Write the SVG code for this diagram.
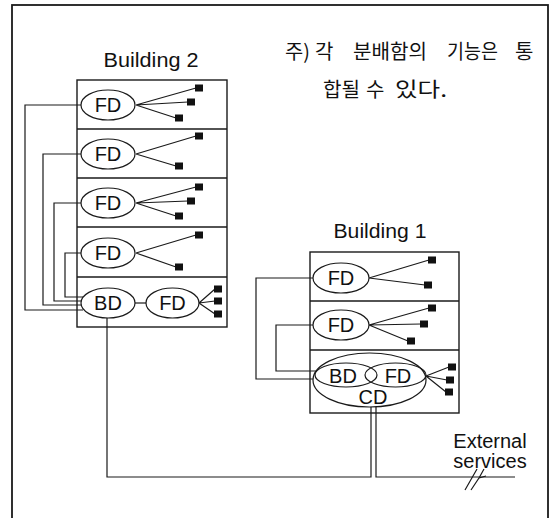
<svg xmlns="http://www.w3.org/2000/svg" width="554" height="518" viewBox="0 0 554 518">
<defs>
<style>
.ln{fill:none;stroke:#1a1a1a;stroke-width:1.2}
.box{fill:none;stroke:#1a1a1a;stroke-width:1.4}
.ell{fill:#fff;stroke:#1a1a1a;stroke-width:1.2}
.ello{fill:none;stroke:#1a1a1a;stroke-width:1.2}
.sq{fill:#111}
.t{font-family:"Liberation Sans",Arial,sans-serif;font-size:20px;fill:#111;text-anchor:middle}
.k{font-family:"Noto Sans CJK KR","Noto Sans",sans-serif;font-size:20px;fill:#111}
</style>
</defs>
<rect x="0" y="0" width="554" height="518" fill="#fff"/>
<rect id="frame" x="12" y="5" width="536" height="540" fill="none" stroke="#1a1a1a" stroke-width="1.8"/>

<g id="note">
<text class="k" x="285" y="59" textLength="25" lengthAdjust="spacingAndGlyphs">주)</text>
<text class="k" x="315" y="59">각</text>
<text class="k" x="353" y="59" textLength="74" lengthAdjust="spacingAndGlyphs">분배함의</text>
<text class="k" x="447" y="59" textLength="51" lengthAdjust="spacingAndGlyphs">기능은</text>
<text class="k" x="515" y="59">통</text>
<text class="k" x="323" y="97" textLength="37" lengthAdjust="spacingAndGlyphs">합될</text>
<text class="k" x="366" y="97">수</text>
<text class="k" x="395" y="97" textLength="52" lengthAdjust="spacingAndGlyphs">있다.</text>
</g>

<g id="connectors">
<!-- Building 2 risers -->
<polyline class="ln" points="81,105 25,105 25,310 83,310"/>
<polyline class="ln" points="81,154 43,154 43,305 82,305"/>
<polyline class="ln" points="81,203 54,203 54,301 82,301"/>
<polyline class="ln" points="81,253 65,253 65,297 83,297"/>
<line class="ln" x1="135" y1="303" x2="146" y2="303"/>
<!-- Building 1 risers -->
<polyline class="ln" points="313,278 256,278 256,379 316,379"/>
<polyline class="ln" points="313,325 276,325 276,371 317,371"/>
<!-- BD to CD -->
<polyline class="ln" points="107,318 107,477 371,477 371,406"/>
<!-- External services -->
<polyline class="ln" points="376,406 376,477 515,477"/>
<path class="ln" d="M465,490 L477,469 M471,490 L479,478 L486,476 M479,478 L484,469"/>
<!-- Building 2 fans -->
<path class="ln" d="M136,105 L196,88 M136,105 L188,102 M136,105 L176,118"/>
<path class="ln" d="M136,154 L196,136 M136,154 L176,166"/>
<path class="ln" d="M136,203 L196,187 M136,203 L188,201 M136,203 L176,216"/>
<path class="ln" d="M136,253 L196,235 M136,253 L176,267"/>
<path class="ln" d="M199,303 L215,289 M199,303 L215,301 M199,303 L215,314"/>
<!-- Building 1 fans -->
<path class="ln" d="M369,278 L429,260 M369,278 L425,285"/>
<path class="ln" d="M369,325 L429,308 M369,325 L421,324 M369,325 L408,341"/>
<path class="ln" d="M426,376 L449,367 M426,376 L447,380 M426,376 L446,392"/>
</g>

<g id="building2">
<text class="t" x="151" y="67" textLength="95" lengthAdjust="spacingAndGlyphs">Building 2</text>
<rect class="box" x="77" y="80" width="150" height="247"/>
<line class="box" x1="77" y1="129" x2="227" y2="129"/>
<line class="box" x1="77" y1="178" x2="227" y2="178"/>
<line class="box" x1="77" y1="227" x2="227" y2="227"/>
<line class="box" x1="77" y1="277" x2="227" y2="277"/>
</g>

<g id="b2-fd1"><ellipse class="ell" cx="108" cy="105" rx="27" ry="15"/><text class="t" x="108" y="112">FD</text>
<rect class="sq" x="195" y="84.5" width="8" height="7"/><rect class="sq" x="187" y="98.5" width="8" height="7"/><rect class="sq" x="175" y="114.5" width="8" height="7"/></g>
<g id="b2-fd2"><ellipse class="ell" cx="108" cy="154" rx="27" ry="15"/><text class="t" x="108" y="161">FD</text>
<rect class="sq" x="195" y="132.5" width="8" height="7"/><rect class="sq" x="175" y="162.5" width="8" height="7"/></g>
<g id="b2-fd3"><ellipse class="ell" cx="108" cy="203" rx="27" ry="15"/><text class="t" x="108" y="210">FD</text>
<rect class="sq" x="195" y="183.5" width="8" height="7"/><rect class="sq" x="187" y="197.5" width="8" height="7"/><rect class="sq" x="175" y="212.5" width="8" height="7"/></g>
<g id="b2-fd4"><ellipse class="ell" cx="108" cy="253" rx="27" ry="15"/><text class="t" x="108" y="260">FD</text>
<rect class="sq" x="195" y="231.5" width="8" height="7"/><rect class="sq" x="175" y="263.5" width="8" height="7"/></g>
<g id="b2-bd"><ellipse class="ell" cx="108" cy="303" rx="27" ry="15"/><text class="t" x="108" y="310">BD</text></g>
<g id="b2-fd5"><ellipse class="ell" cx="172.5" cy="303" rx="26.5" ry="15"/><text class="t" x="172.5" y="310">FD</text>
<rect class="sq" x="214" y="285.5" width="8" height="7"/><rect class="sq" x="214" y="297.5" width="8" height="7"/><rect class="sq" x="214" y="310.5" width="8" height="7"/></g>

<g id="building1">
<text class="t" x="380" y="238" textLength="93" lengthAdjust="spacingAndGlyphs">Building 1</text>
<rect class="box" x="310" y="252" width="149" height="161"/>
<line class="box" x1="310" y1="301" x2="459" y2="301"/>
<line class="box" x1="310" y1="350" x2="459" y2="350"/>
</g>

<g id="b1-fd1"><ellipse class="ell" cx="341" cy="278" rx="28" ry="15"/><text class="t" x="341" y="285">FD</text>
<rect class="sq" x="428" y="256.5" width="8" height="7"/><rect class="sq" x="424" y="281.5" width="8" height="7"/></g>
<g id="b1-fd2"><ellipse class="ell" cx="341" cy="325" rx="28" ry="15"/><text class="t" x="341" y="332">FD</text>
<rect class="sq" x="428" y="304.5" width="8" height="7"/><rect class="sq" x="420" y="320.5" width="8" height="7"/><rect class="sq" x="407" y="337.5" width="8" height="7"/></g>
<g id="b1-cd">
<ellipse class="ell" cx="369.5" cy="380" rx="56.5" ry="27"/>
<text class="t" x="373" y="404">CD</text>
</g>
<g id="b1-bd"><ellipse class="ello" cx="346" cy="375" rx="31" ry="12"/><text class="t" x="343" y="383">BD</text></g>
<g id="b1-fd3"><ellipse class="ello" cx="395.5" cy="375" rx="30.5" ry="12"/><text class="t" x="398" y="383">FD</text>
<rect class="sq" x="448" y="363.5" width="8" height="7"/><rect class="sq" x="446" y="376.5" width="8" height="7"/><rect class="sq" x="445" y="388.5" width="8" height="7"/></g>

<g id="external">
<text class="t" x="490" y="448">External</text>
<text class="t" x="490" y="468">services</text>
</g>
</svg>
